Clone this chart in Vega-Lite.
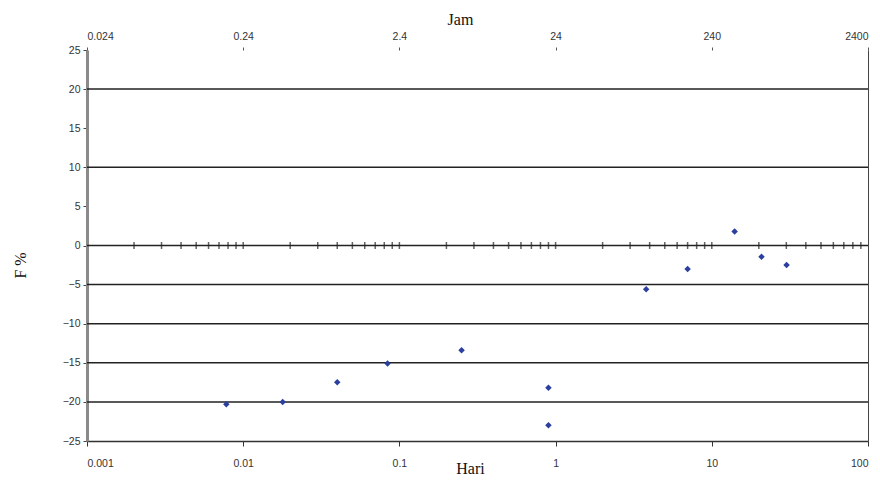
{
  "$schema": "https://vega.github.io/schema/vega-lite/v6.json",
  "autosize": "none",
  "width": 781,
  "height": 391,
  "padding": {"left": 87, "top": 50, "right": 12, "bottom": 42},
  "background": "white",
  "config": {
    "view": {"stroke": null},
    "axis": {"labelFont": "Liberation Sans", "labelFontSize": 10.5, "labelColor": "#333", "titleFont": "Liberation Serif", "titleFontSize": 16, "titleFontWeight": "normal", "titleColor": "#111"}
  },
  "datasets": {
    "points": [
      {"hari": 0.0078, "f": -20.3},
      {"hari": 0.0179, "f": -20.0},
      {"hari": 0.040, "f": -17.5},
      {"hari": 0.084, "f": -15.1},
      {"hari": 0.25, "f": -13.4},
      {"hari": 0.90, "f": -18.2},
      {"hari": 0.90, "f": -23.0},
      {"hari": 3.8, "f": -5.6},
      {"hari": 7.0, "f": -3.0},
      {"hari": 14.0, "f": 1.8},
      {"hari": 20.8, "f": -1.45},
      {"hari": 30.1, "f": -2.5}
    ],
    "grid": [
      {"f": 20}, {"f": 10}, {"f": 0}, {"f": -5}, {"f": -10}, {"f": -15}, {"f": -20}
    ],
    "minor": [
      {"hari": 0.002, "f": 0}, {"hari": 0.003, "f": 0}, {"hari": 0.004, "f": 0}, {"hari": 0.005, "f": 0}, {"hari": 0.006, "f": 0}, {"hari": 0.007, "f": 0}, {"hari": 0.008, "f": 0}, {"hari": 0.009, "f": 0}, {"hari": 0.01, "f": 0},
      {"hari": 0.02, "f": 0}, {"hari": 0.03, "f": 0}, {"hari": 0.04, "f": 0}, {"hari": 0.05, "f": 0}, {"hari": 0.06, "f": 0}, {"hari": 0.07, "f": 0}, {"hari": 0.08, "f": 0}, {"hari": 0.09, "f": 0}, {"hari": 0.1, "f": 0},
      {"hari": 0.2, "f": 0}, {"hari": 0.3, "f": 0}, {"hari": 0.4, "f": 0}, {"hari": 0.5, "f": 0}, {"hari": 0.6, "f": 0}, {"hari": 0.7, "f": 0}, {"hari": 0.8, "f": 0}, {"hari": 0.9, "f": 0}, {"hari": 1, "f": 0},
      {"hari": 2, "f": 0}, {"hari": 3, "f": 0}, {"hari": 4, "f": 0}, {"hari": 5, "f": 0}, {"hari": 6, "f": 0}, {"hari": 7, "f": 0}, {"hari": 8, "f": 0}, {"hari": 9, "f": 0}, {"hari": 10, "f": 0},
      {"hari": 20, "f": 0}, {"hari": 30, "f": 0}, {"hari": 40, "f": 0}, {"hari": 50, "f": 0}, {"hari": 60, "f": 0}, {"hari": 70, "f": 0}, {"hari": 80, "f": 0}, {"hari": 90, "f": 0}
    ]
  },
  "layer": [
    {
      "data": {"name": "grid"},
      "mark": {"type": "rule", "color": "#222", "strokeWidth": 1.5},
      "encoding": {
        "y": {
          "field": "f", "type": "quantitative",
          "scale": {"domain": [-25, 25], "nice": false, "zero": false},
          "axis": {
            "orient": "left", "values": [25, 20, 15, 10, 5, 0, -5, -10, -15, -20, -25],
            "grid": false, "domainColor": "#8a8a8a", "domainWidth": 3,
            "tickSize": 4, "tickColor": "#444", "labelPadding": 3,
            "title": "F %", "titleX": -67, "titleY": 215, "titleAngle": -90, "titleBaseline": "middle"
          }
        }
      }
    },
    {
      "data": {"name": "minor"},
      "mark": {"type": "tick", "orient": "vertical", "color": "#222", "size": 7, "thickness": 1.5},
      "encoding": {
        "x": {
          "field": "hari", "type": "quantitative",
          "scale": {"type": "log", "domain": [0.001, 100], "nice": false},
          "axis": {
            "orient": "top", "values": [0.001, 0.01, 0.1, 1, 10, 100],
            "labelExpr": "format(datum.value * 24, '~g')",
            "domain": false, "tickSize": 3, "tickColor": "#555", "grid": false, "labelPadding": 6,
            "title": "Jam", "titleX": 373, "titlePadding": 4
          }
        },
        "y": {
          "field": "f", "type": "quantitative",
          "axis": {"orient": "right", "labels": false, "ticks": false, "grid": false, "title": null, "domainColor": "#444", "domainWidth": 1}
        }
      }
    },
    {
      "data": {"name": "points"},
      "mark": {"type": "point", "shape": "diamond", "filled": true, "color": "#2b3f9e", "size": 42, "opacity": 1},
      "encoding": {
        "x": {
          "field": "hari", "type": "quantitative",
          "axis": {
            "orient": "bottom", "values": [0.001, 0.01, 0.1, 1, 10, 100],
            "labelExpr": "format(datum.value, '~g')",
            "domainColor": "#333", "domainWidth": 1.5, "tickSize": 5, "tickColor": "#333", "grid": false,
            "labelPadding": 12,
            "title": "Hari", "titleX": 383, "titlePadding": -8
          }
        },
        "y": {"field": "f", "type": "quantitative", "axis": null}
      }
    }
  ],
  "resolve": {"axis": {"x": "independent", "y": "independent"}}
}
